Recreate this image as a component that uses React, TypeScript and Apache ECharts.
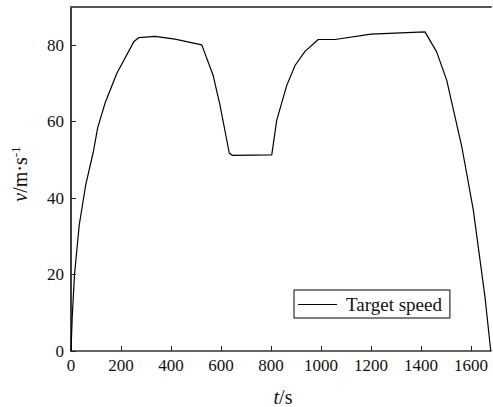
import React, { useEffect, useRef } from "react";
import * as echarts from "echarts";

const timeS = [0, 5, 14, 33, 59, 89, 107, 136, 183, 252, 272, 336, 416, 523, 569, 596, 633, 645, 803, 823, 863, 896, 936, 989, 1056, 1200, 1416, 1463, 1503, 1563, 1609, 1656, 1679];
const speed = [0, 9, 20, 33, 43.5, 52, 58.5, 64.8, 72.6, 81, 82, 82.3, 81.6, 80.1, 72, 64.3, 51.8, 51.2, 51.3, 60.4, 69.5, 74.7, 78.4, 81.5, 81.5, 82.9, 83.5, 78.2, 70.8, 53.5, 37, 14.1, 0];
const xTicks = [0, 200, 400, 600, 800, 1000, 1200, 1400, 1600];
const yTicks = [0, 20, 40, 60, 80];
const seriesName = "Target speed";

const FONT = "Liberation Serif";
const TICK_FONT = "Times";

export default function App() {
  const ref = useRef<HTMLDivElement>(null);
  useEffect(() => {
    const chart = echarts.init(ref.current!, null, { renderer: "svg" });
    const data = timeS.map((t, i) => [t, speed[i]]);
    chart.setOption({
      animation: false,
      backgroundColor: "#ffffff",
      textStyle: { fontFamily: FONT, fontSize: 17, color: "#111" },
      grid: { left: 71, right: 2, top: 7, bottom: 56, containLabel: false },
      legend: {
        data: [seriesName],
        left: 294,
        top: 290,
        icon: "rect",
        itemWidth: 39,
        itemHeight: 1,
        itemGap: 0,
        padding: [5, 8, 4, 4],
        borderColor: "#000",
        borderWidth: 1,
        itemStyle: { color: "#000" },
        textStyle: { fontFamily: FONT, fontSize: 19, color: "#111", padding: [0, 0, 0, 4] },
      },
      xAxis: [
        {
          type: "value",
          min: 0,
          max: 1680,
          interval: 200,
          splitLine: { show: false },
          axisLine: { show: true, lineStyle: { color: "#333", width: 1.5 } },
          axisTick: { show: true, inside: true, length: 5, customValues: xTicks, lineStyle: { color: "#222", width: 1 } },
          axisLabel: {
            showMaxLabel: false,
            formatter: (v: number) => String(v),
            fontFamily: TICK_FONT,
            fontSize: 17,
            color: "#111",
            margin: 6,
          },
        },
        {
          type: "value",
          position: "top",
          min: 0,
          max: 1680,
          splitLine: { show: false },
          axisLine: { show: true, lineStyle: { color: "#555", width: 2 } },
          axisTick: { show: false },
          axisLabel: { show: false },
        },
      ],
      yAxis: {
        type: "value",
        min: 0,
        max: 90,
        interval: 20,
        splitLine: { show: false },
        axisLine: { show: true, lineStyle: { color: "#000", width: 1.5 } },
        axisTick: { show: true, inside: true, length: 5, customValues: yTicks, lineStyle: { color: "#222", width: 1 } },
        axisLabel: {
          showMaxLabel: false,
          formatter: (v: number) => String(v),
          fontFamily: TICK_FONT,
          fontSize: 17,
          color: "#111",
          margin: 7,
        },
      },
      series: [
        {
          name: seriesName,
          type: "line",
          data,
          symbol: "none",
          lineStyle: { color: "#000", width: 1.2 },
          itemStyle: { color: "#000" },
        },
      ],
      graphic: [
        {
          type: "text",
          x: 20,
          y: 174,
          rotation: Math.PI / 2,
          style: {
            text: "{i|v}{n|/m·s}{s|-1}",
            align: "center",
            verticalAlign: "middle",
            rich: {
              i: { fontFamily: FONT, fontSize: 20, fontStyle: "italic", fill: "#111" },
              n: { fontFamily: FONT, fontSize: 20, fill: "#111" },
              s: { fontFamily: FONT, fontSize: 13, fill: "#111", padding: [0, 0, 10, 0] },
            },
          },
        },
        {
          type: "text",
          x: 283,
          y: 397,
          style: {
            text: "{i|t}{n|/s}",
            align: "center",
            verticalAlign: "middle",
            rich: {
              i: { fontFamily: FONT, fontSize: 20, fontStyle: "italic", fill: "#111" },
              n: { fontFamily: FONT, fontSize: 20, fill: "#111" },
            },
          },
        },
      ],
    });
    return () => chart.dispose();
  }, []);
  return (
    <div
      ref={ref}
      style={{ position: "fixed", left: 0, top: 0, width: 493, height: 407, background: "#fff" }}
    />
  );
}
